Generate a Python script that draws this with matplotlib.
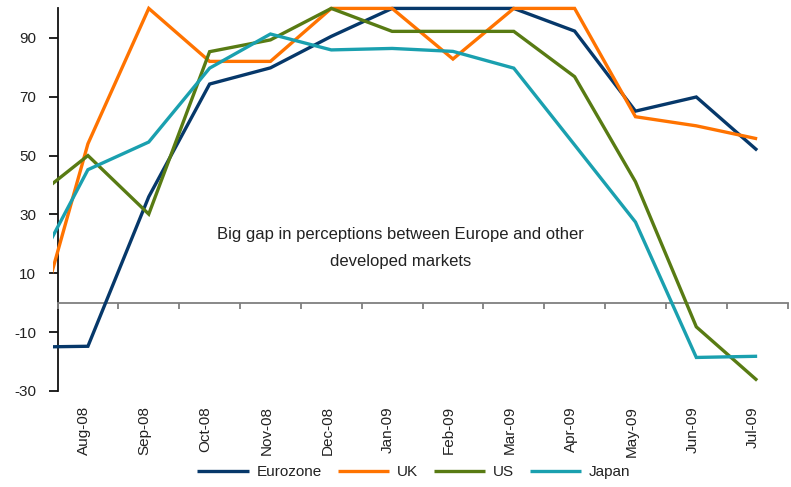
import matplotlib
matplotlib.use("Agg")
import matplotlib.pyplot as plt
from matplotlib.transforms import blended_transform_factory, ScaledTranslation

plt.rcParams['font.family'] = ['Liberation Sans', 'DejaVu Sans']

# Jul-08 is the (clipped) point left of the visible range
months = ["Jul-08", "Aug-08", "Sep-08", "Oct-08", "Nov-08", "Dec-08", "Jan-09",
          "Feb-09", "Mar-09", "Apr-09", "May-09", "Jun-09", "Jul-09"]
eurozone = [-15.1, -14.8, 36, 74.3, 79.8, 90.5, 100, 100, 100, 92.3, 65.1, 69.9, 51.8]
uk       = [-19.7, 54, 100, 82, 82, 100, 100, 82.8, 100, 100, 63.2, 60.1, 55.7]
us       = [33.6, 50, 30.1, 85.3, 89.3, 100, 92.2, 92.2, 92.2, 76.8, 41.1, -8.2, -26.4]
japan    = [6, 45.2, 54.6, 79.7, 91.3, 85.9, 86.4, 85.4, 79.7, 53.6, 27.4, -18.6, -18.2]

series = [("Eurozone", eurozone, "#06386a"),
          ("UK", uk, "#ff7300"),
          ("US", us, "#587b13"),
          ("Japan", japan, "#1aa0af")]

yticks = [-30, -10, 10, 30, 50, 70, 90]
note = "Big gap in perceptions between Europe and other\ndeveloped markets"

W, H = 791, 487
fig = plt.figure(figsize=(W / 100, H / 100), dpi=100)
ax = fig.add_axes([53 / W, 1 - 391 / H, (787 - 53 + 3) / W, (391 - 4) / H])

x = list(range(-1, len(months) - 1))
for name, vals, col in series:
    ax.plot(x, vals, color=col, lw=2.4, label=name, solid_capstyle='butt',
            solid_joinstyle='miter')

ax.set_xlim(-0.574, 11.54)
ax.set_ylim(-30, 101.5)

for s in ['top', 'right']:
    ax.spines[s].set_visible(False)
ax.spines['left'].set_position(('data', -0.5))
ax.spines['left'].set_bounds(-30, 100)
ax.spines['left'].set_linewidth(1.3)
ax.spines['left'].set_color('#111111')
ax.spines['bottom'].set_position(('data', 0))
ax.spines['bottom'].set_bounds(-0.5, 11.5)
ax.spines['bottom'].set_color('#7f7f7f')
ax.spines['bottom'].set_linewidth(1.3)
ax.spines['left'].set_zorder(0.5)
ax.spines['bottom'].set_zorder(0.5)

ax.set_yticks(yticks)
ax.set_yticklabels([str(v) for v in yticks])
ax.tick_params(axis='y', direction='out', length=6.5, width=1.3, color='#111111',
               labelsize=11, labelcolor='#222222', pad=9)

ax.set_xticks([i + 0.5 for i in range(-1, 12)])
ax.set_xticklabels([])
ax.tick_params(axis='x', direction='out', length=4.5, width=1.3, color='#7f7f7f')

tr = blended_transform_factory(ax.transData, fig.transFigure) + \
    ScaledTranslation(-4 / 100, 0, fig.dpi_scale_trans)
for i, m in enumerate(months[1:]):
    ax.text(i, 1 - 406 / H, m, transform=tr, rotation=90, ha='center', va='top',
            fontsize=11, color='#222222')

ax.text(5.14, 18.6, note, ha='center', va='center', fontsize=12,
        color='#222222', linespacing=2.05)

fig.legend(loc='center', bbox_to_anchor=(414 / W, 1 - 472 / H), ncol=4,
           frameon=False, handlelength=3.4, fontsize=11, columnspacing=1.0,
           handletextpad=0.5, labelcolor='#222222')

fig.savefig("out.png", dpi=100)
